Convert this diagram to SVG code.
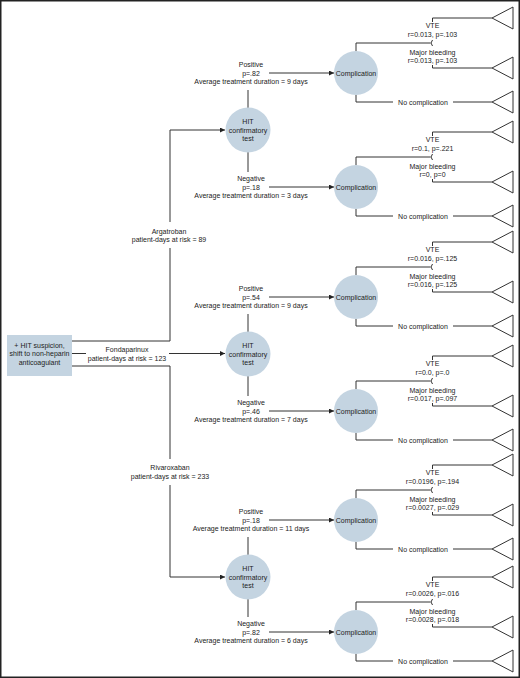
<svg xmlns="http://www.w3.org/2000/svg" width="520" height="678" viewBox="0 0 520 678">
<defs>
<style>
.t{font-family:"Liberation Sans",Arial,Helvetica,sans-serif;font-size:7px;fill:#222;text-anchor:middle}
.ln{stroke:#333;stroke-width:1;fill:none}
.tri{stroke:#333;stroke-width:1;fill:#fff}
.nd{fill:#c4d4e1}
</style>
<marker id="ah" viewBox="0 0 6 6" refX="6" refY="3" markerWidth="5" markerHeight="5" markerUnits="userSpaceOnUse" orient="auto">
<path d="M0,0 L6,3 L0,6 Z" fill="#222"/>
</marker>
<polygon id="term" class="tri" points="0,0 21,-11 21,11"/>
</defs>
<rect x="0.75" y="0.75" width="518.5" height="676.5" fill="#fff" stroke="#222" stroke-width="1.5"/>

<g id="connectors">
<!-- root to drugs -->
<path class="ln" d="M72,341 H170 V248 M170,222 V130 H225" marker-end="url(#ah)"/>
<path class="ln" d="M72,353.5 H86"/>
<path class="ln" d="M169,353.5 H225" marker-end="url(#ah)"/>
<path class="ln" d="M72,366 H170 V459 M170,485 V577 H225" marker-end="url(#ah)"/>
<!-- HIT to labels -->
<path class="ln" d="M248,108 V90 M248,152 V172"/>
<path class="ln" d="M248,332 V314 M248,376 V396"/>
<path class="ln" d="M248,555 V537 M248,599 V617"/>
<!-- label arrows to complication -->
<path class="ln" d="M269,73 H334" marker-end="url(#ah)"/>
<path class="ln" d="M269,187 H334" marker-end="url(#ah)"/>
<path class="ln" d="M269,297 H334" marker-end="url(#ah)"/>
<path class="ln" d="M269,411 H334" marker-end="url(#ah)"/>
<path class="ln" d="M269,520 H334" marker-end="url(#ah)"/>
<path class="ln" d="M269,632 H334" marker-end="url(#ah)"/>
<!-- complication branches -->
<g id="branches1" transform="translate(0,73)">
<path class="ln" d="M356,-22 V-30 H430.5 M432.5,-33 Q429.5,-30 432.5,-27 M432.5,-51 V-55 H492 M432.5,-8 V-5 H492 M356,22 V29 H393 M453,29 H492"/>
</g>
<g id="branches2" transform="translate(0,187)">
<path class="ln" d="M356,-22 V-30 H430.5 M432.5,-33 Q429.5,-30 432.5,-27 M432.5,-51 V-55 H492 M432.5,-8 V-5 H492 M356,22 V29 H393 M453,29 H492"/>
</g>
<g id="branches3" transform="translate(0,297)">
<path class="ln" d="M356,-22 V-30 H430.5 M432.5,-33 Q429.5,-30 432.5,-27 M432.5,-51 V-55 H492 M432.5,-8 V-5 H492 M356,22 V29 H393 M453,29 H492"/>
</g>
<g id="branches4" transform="translate(0,411)">
<path class="ln" d="M356,-22 V-30 H430.5 M432.5,-33 Q429.5,-30 432.5,-27 M432.5,-51 V-55 H492 M432.5,-8 V-5 H492 M356,22 V29 H393 M453,29 H492"/>
</g>
<g id="branches5" transform="translate(0,520)">
<path class="ln" d="M356,-22 V-30 H430.5 M432.5,-33 Q429.5,-30 432.5,-27 M432.5,-51 V-55 H492 M432.5,-8 V-5 H492 M356,22 V29 H393 M453,29 H492"/>
</g>
<g id="branches6" transform="translate(0,632)">
<path class="ln" d="M356,-22 V-30 H430.5 M432.5,-33 Q429.5,-30 432.5,-27 M432.5,-51 V-55 H492 M432.5,-8 V-5 H492 M356,22 V29 H393 M453,29 H492"/>
</g>
</g>

<g id="edge-labels">
<text class="t" x="169" y="233.5">Argatroban</text>
<text class="t" x="169" y="241.5">patient-days at risk = 89</text>
<text class="t" x="127" y="351.5">Fondaparinux</text>
<text class="t" x="127" y="360.5">patient-days at risk = 123</text>
<text class="t" x="170" y="469.5">Rivaroxaban</text>
<text class="t" x="170" y="478.5">patient-days at risk = 233</text>

<text class="t" x="251" y="66.5">Positive</text>
<text class="t" x="251" y="75.5">p=.82</text>
<text class="t" x="251" y="84">Average treatment duration = 9 days</text>
<text class="t" x="251" y="180.5">Negative</text>
<text class="t" x="251" y="189.5">p=.18</text>
<text class="t" x="251" y="198">Average treatment duration = 3 days</text>

<text class="t" x="251" y="290.5">Positive</text>
<text class="t" x="251" y="299.5">p=.54</text>
<text class="t" x="251" y="308">Average treatment duration = 9 days</text>
<text class="t" x="251" y="404.5">Negative</text>
<text class="t" x="251" y="413.5">p=.46</text>
<text class="t" x="251" y="422">Average treatment duration = 7 days</text>

<text class="t" x="251" y="513.5">Positive</text>
<text class="t" x="251" y="522.5">p=.18</text>
<text class="t" x="251" y="531">Average treatment duration = 11 days</text>
<text class="t" x="251" y="625.5">Negative</text>
<text class="t" x="251" y="634.5">p=.82</text>
<text class="t" x="251" y="643">Average treatment duration = 6 days</text>
</g>

<g id="outcome-labels">
<g transform="translate(0,73)">
<text class="t" x="432.5" y="-45">VTE</text><text class="t" x="432.5" y="-36.5">r=0.013, p=.103</text>
<text class="t" x="432.5" y="-18.5">Major bleeding</text><text class="t" x="432.5" y="-10">r=0.013, p=.103</text>
<text class="t" x="423" y="31.5">No complication</text>
</g>
<g transform="translate(0,187)">
<text class="t" x="432.5" y="-45">VTE</text><text class="t" x="432.5" y="-36.5">r=0.1, p=.221</text>
<text class="t" x="432.5" y="-18.5">Major bleeding</text><text class="t" x="432.5" y="-10">r=0, p=0</text>
<text class="t" x="423" y="31.5">No complication</text>
</g>
<g transform="translate(0,297)">
<text class="t" x="432.5" y="-45">VTE</text><text class="t" x="432.5" y="-36.5">r=0.016, p=.125</text>
<text class="t" x="432.5" y="-18.5">Major bleeding</text><text class="t" x="432.5" y="-10">r=0.016, p=.125</text>
<text class="t" x="423" y="31.5">No complication</text>
</g>
<g transform="translate(0,411)">
<text class="t" x="432.5" y="-45">VTE</text><text class="t" x="432.5" y="-36.5">r=0.0, p=.0</text>
<text class="t" x="432.5" y="-18.5">Major bleeding</text><text class="t" x="432.5" y="-10">r=0.017, p=.097</text>
<text class="t" x="423" y="31.5">No complication</text>
</g>
<g transform="translate(0,520)">
<text class="t" x="432.5" y="-45">VTE</text><text class="t" x="432.5" y="-36.5">r=0.0196, p=.194</text>
<text class="t" x="432.5" y="-18.5">Major bleeding</text><text class="t" x="432.5" y="-10">r=0.0027, p=.029</text>
<text class="t" x="423" y="31.5">No complication</text>
</g>
<g transform="translate(0,632)">
<text class="t" x="432.5" y="-45">VTE</text><text class="t" x="432.5" y="-36.5">r=0.0026, p=.016</text>
<text class="t" x="432.5" y="-18.5">Major bleeding</text><text class="t" x="432.5" y="-10">r=0.0028, p=.018</text>
<text class="t" x="423" y="31.5">No complication</text>
</g>
</g>

<g id="root">
<rect class="nd" x="7" y="335" width="65" height="41"/>
<text class="t" x="39.5" y="347.5">+ HIT suspicion,</text>
<text class="t" x="39.5" y="356">shift to non-heparin</text>
<text class="t" x="39.5" y="364.5">anticoagulant</text>
</g>

<g id="hit-argatroban">
<circle class="nd" cx="248" cy="130" r="22.5"/>
<text class="t" x="248" y="123.5">HIT</text><text class="t" x="248" y="132.5">confirmatory</text><text class="t" x="248" y="141">test</text>
</g>
<g id="hit-fondaparinux">
<circle class="nd" cx="248" cy="354" r="22.5"/>
<text class="t" x="248" y="347.5">HIT</text><text class="t" x="248" y="356.5">confirmatory</text><text class="t" x="248" y="365">test</text>
</g>
<g id="hit-rivaroxaban">
<circle class="nd" cx="248" cy="577" r="22.5"/>
<text class="t" x="248" y="570.5">HIT</text><text class="t" x="248" y="579.5">confirmatory</text><text class="t" x="248" y="588">test</text>
</g>

<g id="comp-arg-pos"><circle class="nd" cx="356" cy="73" r="22"/><text class="t" x="356" y="75.5">Complication</text></g>
<g id="comp-arg-neg"><circle class="nd" cx="356" cy="187" r="22"/><text class="t" x="356" y="189.5">Complication</text></g>
<g id="comp-fon-pos"><circle class="nd" cx="356" cy="297" r="22"/><text class="t" x="356" y="299.5">Complication</text></g>
<g id="comp-fon-neg"><circle class="nd" cx="356" cy="411" r="22"/><text class="t" x="356" y="413.5">Complication</text></g>
<g id="comp-riv-pos"><circle class="nd" cx="356" cy="520" r="22"/><text class="t" x="356" y="522.5">Complication</text></g>
<g id="comp-riv-neg"><circle class="nd" cx="356" cy="632" r="22"/><text class="t" x="356" y="634.5">Complication</text></g>

<g id="terminals">
<use href="#term" x="492" y="18"/><use href="#term" x="492" y="68"/><use href="#term" x="492" y="102"/>
<use href="#term" x="492" y="132"/><use href="#term" x="492" y="182"/><use href="#term" x="492" y="216"/>
<use href="#term" x="492" y="242"/><use href="#term" x="492" y="292"/><use href="#term" x="492" y="326"/>
<use href="#term" x="492" y="356"/><use href="#term" x="492" y="406"/><use href="#term" x="492" y="440"/>
<use href="#term" x="492" y="465"/><use href="#term" x="492" y="515"/><use href="#term" x="492" y="549"/>
<use href="#term" x="492" y="577"/><use href="#term" x="492" y="627"/><use href="#term" x="492" y="661"/>
</g>
</svg>
